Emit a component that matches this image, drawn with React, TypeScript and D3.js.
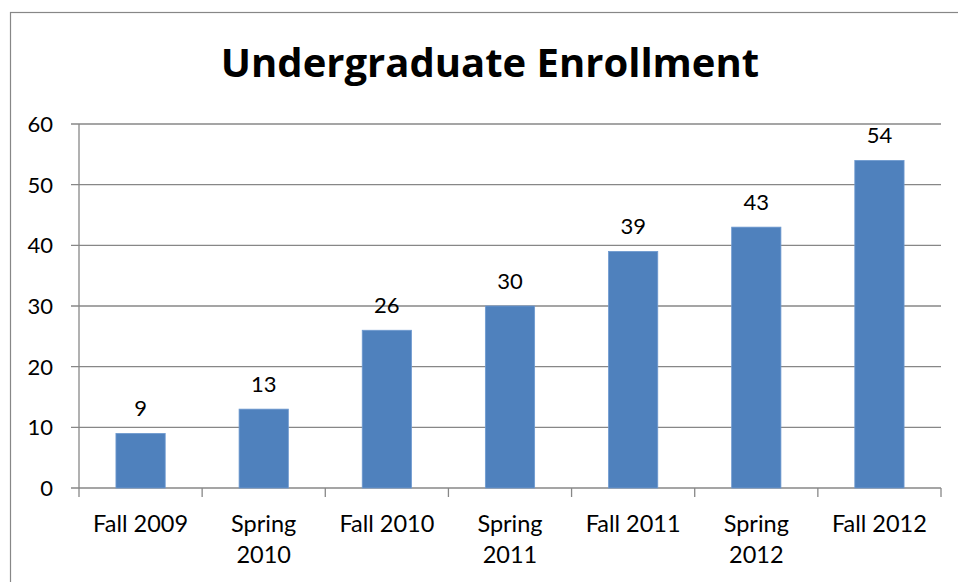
import React from "react";
import * as d3 from "d3";

const categories: string[][] = [
  ["Fall 2009"],
  ["Spring", "2010"],
  ["Fall 2010"],
  ["Spring", "2011"],
  ["Fall 2011"],
  ["Spring", "2012"],
  ["Fall 2012"],
];
const values: number[] = [9, 13, 26, 30, 39, 43, 54];
const yTicks: number[] = [0, 10, 20, 30, 40, 50, 60];
const title = "Undergraduate Enrollment";

const W = 958;
const H = 582;
const left = 79;
const right = 941;
const top = 124;
const bottom = 488;
const FONT = "Lato, 'Open Sans', sans-serif";
const TFONT = "'Open Sans', Lato, sans-serif";
const GRID = "#878787";
const BAR = "#4F81BD";

export default function App() {
  const keys = categories.map((c) => c.join(" "));
  const x = d3.scaleBand<string>().domain(keys).range([left, right]).paddingInner(0.6).paddingOuter(0.3);
  const xb = d3.scaleBand<string>().domain(keys).range([left, right]).padding(0);
  const y = d3.scaleLinear().domain([0, 60]).range([bottom, top]);

  return (
    <svg width={W} height={H} style={{ position: "absolute", left: 0, top: 0 }}>
      <rect x={0} y={0} width={W} height={H} fill="#fff" />
      <rect x={10.5} y={12.5} width={W + 10} height={H + 10} fill="none" stroke={GRID} strokeWidth={1.2} />
      <text x={490} y={77} textAnchor="middle" fontFamily={TFONT} fontWeight={700} fontSize={40} fill="#000">
        {title}
      </text>
      {yTicks.map((t) => (
        <g key={t}>
          <line x1={71} x2={right} y1={y(t)} y2={y(t)} stroke={GRID} strokeWidth={1.3} />
          <text x={53} y={y(t)} dy="0.36em" textAnchor="end" fontFamily={FONT} fontSize={22} fill="#000">
            {t}
          </text>
        </g>
      ))}
      <line x1={left} x2={left} y1={top} y2={bottom + 9} stroke={GRID} strokeWidth={1.3} />
      {keys.map((k, i) => (
        <line key={"t" + i} x1={(xb(k) as number) + xb.bandwidth()} x2={(xb(k) as number) + xb.bandwidth()} y1={bottom} y2={bottom + 9} stroke={GRID} strokeWidth={1.3} />
      ))}
      {keys.map((k, i) => (
        <g key={k}>
          <rect x={x(k)} y={y(values[i])} width={x.bandwidth()} height={bottom - y(values[i])} fill={BAR} stroke="#6f9ad0" strokeWidth={0.8} />
          <text x={(x(k) as number) + x.bandwidth() / 2} y={y(values[i]) - 17} textAnchor="middle" fontFamily={FONT} fontSize={22} fill="#000">
            {values[i]}
          </text>
          {categories[i].map((line, j) => (
            <text key={j} x={(xb(k) as number) + xb.bandwidth() / 2} y={532 + j * 31} textAnchor="middle" fontFamily={FONT} fontSize={23.5} fill="#000">
              {line}
            </text>
          ))}
        </g>
      ))}
    </svg>
  );
}
